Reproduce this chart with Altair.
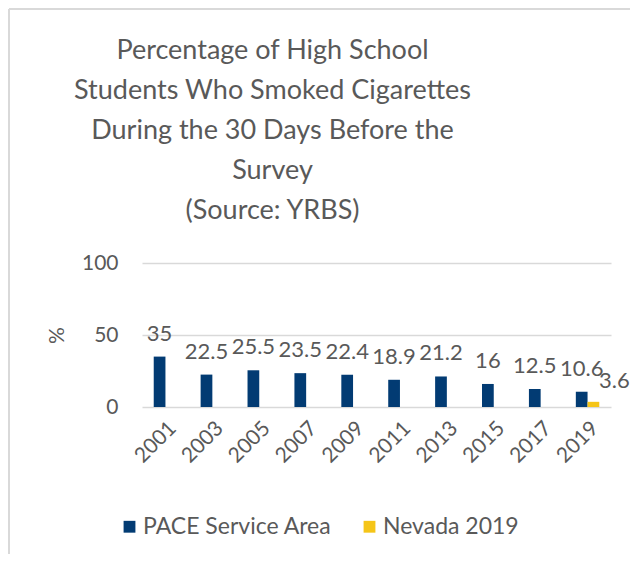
import altair as alt
import pandas as pd

years = ["2001", "2003", "2005", "2007", "2009", "2011", "2013", "2015", "2017", "2019"]
pace = [35, 22.5, 25.5, 23.5, 22.4, 18.9, 21.2, 16, 12.5, 10.6]
nevada_year = ["2019"]
nevada = [3.6]
series_names = ["PACE Service Area", "Nevada 2019"]
colors = ["#023B73", "#F5C518"]
title_lines = ["Percentage of High School", "Students Who Smoked Cigarettes",
               "During the 30 Days Before the", "Survey", "(Source: YRBS)"]

rows = [{"year": y, "series": series_names[0], "value": v} for y, v in zip(years, pace)]
rows += [{"year": y, "series": series_names[1], "value": v} for y, v in zip(nevada_year, nevada)]
df = pd.DataFrame(rows)

FONT = "Lato"
GRAY = "#595959"

x_enc = alt.X("year:N", sort=years, title=None,
              scale=alt.Scale(paddingInner=0.5, paddingOuter=0.25),
              axis=alt.Axis(labelAngle=-45, labelFontSize=21, labelColor=GRAY, labelFont=FONT,
                            domain=False, ticks=False, labelPadding=10))
xo_enc = alt.XOffset("series:N", sort=series_names, scale=alt.Scale(domain=series_names))
y_enc = alt.Y("value:Q", title="%", scale=alt.Scale(domain=[0, 100]),
              axis=alt.Axis(values=[0, 50, 100], domain=False, ticks=False, grid=True,
                            gridColor="#D9D9D9", gridWidth=1.5, labelFontSize=21,
                            labelColor=GRAY, labelFont=FONT, labelPadding=24,
                            titleFontSize=21, titleColor=GRAY, titleFont=FONT,
                            titleFontWeight="normal", titlePadding=14))

bars = alt.Chart(df).mark_bar().encode(
    x=x_enc, xOffset=xo_enc, y=y_enc,
    color=alt.Color("series:N", sort=series_names,
                    scale=alt.Scale(domain=series_names, range=colors),
                    legend=alt.Legend(title=None, orient="none", legendX=-24, legendY=252,
                                      direction="horizontal", symbolType="square",
                                      symbolSize=140, symbolStrokeWidth=0,
                                      labelFontSize=23, labelColor=GRAY, labelFont=FONT,
                                      labelLimit=400, labelOffset=2, columnPadding=26)),
)

txt_pace = alt.Chart(df).transform_filter(alt.datum.series == series_names[0]).mark_text(
    baseline="alphabetic", dy=-16, fontSize=22, color=GRAY, font=FONT
).encode(x=x_enc, xOffset=xo_enc, y=y_enc, text=alt.Text("value:Q"))

txt_nv = alt.Chart(df).transform_filter(alt.datum.series == series_names[1]).mark_text(
    baseline="alphabetic", dy=-14, dx=21, fontSize=22, color=GRAY, font=FONT
).encode(x=x_enc, xOffset=xo_enc, y=y_enc, text=alt.Text("value:Q"))

border = alt.Chart(df).mark_rule(color="#D9D9D9", strokeWidth=1.5).encode(
    x=alt.value(-133), y=alt.value(-254), y2=alt.value(291))
border_top = alt.Chart(df).mark_rule(color="#D9D9D9", strokeWidth=1.5).encode(
    x=alt.value(-133), x2=alt.value(488), y=alt.value(-254))

chart = alt.layer(bars, txt_pace, txt_nv, border, border_top).properties(
    width=469, height=144,
    autosize=alt.AutoSizeParams(type="none"),
    padding={"left": 134, "top": 255, "right": 19, "bottom": 147},
    title=alt.TitleParams(text=title_lines, fontSize=27, font=FONT, color=GRAY,
                          fontWeight="normal", lineHeight=40, anchor="middle",
                          baseline="alphabetic", frame="group", dx=-104, offset=-238),
).configure_view(stroke=None)

chart.save("out.html", embed_options={"renderer": "svg", "actions": False})
